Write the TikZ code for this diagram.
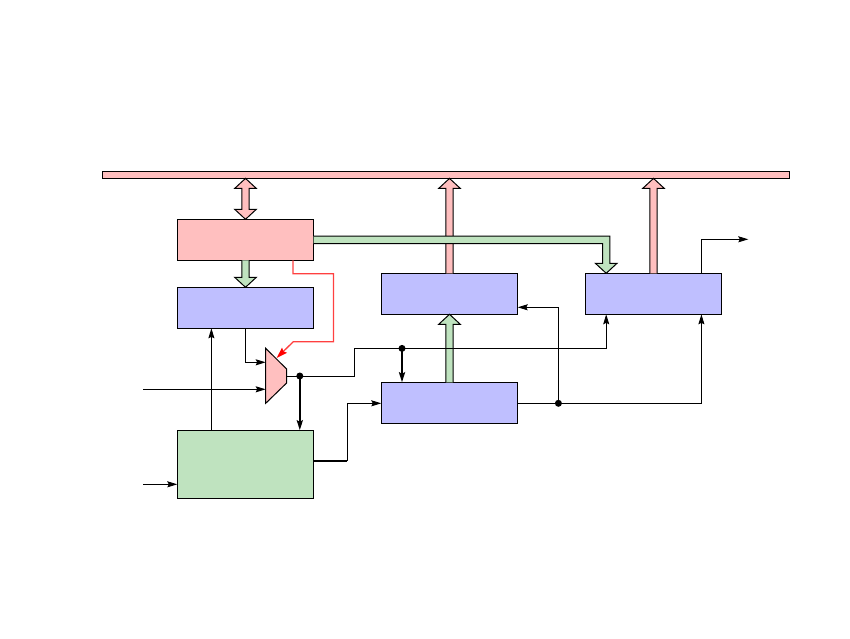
\documentclass[tikz,border=0pt]{standalone}
\usetikzlibrary{arrows.meta,calc}
\definecolor{pinkf}{RGB}{255,191,191}
\definecolor{bluef}{RGB}{191,191,255}
\definecolor{greenf}{RGB}{191,227,191}
\tikzset{
  x=1pt,y=-1pt,
  blockbox/.style={draw=black,line width=1pt,inner sep=0pt,outer sep=0pt,minimum width=136.4pt,minimum height=41pt,anchor=north west},
  wire/.style={draw=black,line width=1pt,-{Stealth[length=10pt,width=6pt,inset=1.5pt]}},
  plain/.style={draw=black,line width=1pt},
  heavy/.style={draw=black,line width=2.1pt,-{Stealth[length=10pt,width=6pt,inset=1.5pt]}},
  heavyplain/.style={draw=black,line width=2.1pt},
  redwire/.style={draw=red!75,line width=1.3pt,-{Stealth[length=11pt,width=7pt,inset=1.5pt,red]}},
  dotnode/.style={circle,fill=black,inner sep=0pt,minimum size=7pt},
  fat/.style={draw=black,line width=1pt,line join=miter,fill=#1},
}
% upward single block arrow: #1 fill, #2 base, #3 tip
\newcommand{\blockup}[3]{%
  \path[fat=#1] let \p1=#2,\p2=#3 in
    (\x1-3.6pt,\y1) -- (\x1-3.6pt,\y2-10pt) -- (\x1-10.8pt,\y2-10pt) -- (\x2,\y2)
    -- (\x1+10.8pt,\y2-10pt) -- (\x1+3.6pt,\y2-10pt) -- (\x1+3.6pt,\y1);}
\newcommand{\blockdown}[3]{%
  \path[fat=#1] let \p1=#2,\p2=#3 in
    (\x1-3.6pt,\y1) -- (\x1-3.6pt,\y2+10pt) -- (\x1-10.8pt,\y2+10pt) -- (\x2,\y2)
    -- (\x1+10.8pt,\y2+10pt) -- (\x1+3.6pt,\y2+10pt) -- (\x1+3.6pt,\y1);}
\begin{document}
\begin{tikzpicture}
\useasboundingbox (0,0) rectangle (850,638);
% boxes
\node[blockbox,fill=pinkf,minimum width=687.2pt,minimum height=7pt] (bus) at (102.4,171.4) {};
\node[blockbox,fill=pinkf] (ctl) at (177.3,219.3) {};
\node[blockbox,fill=bluef] (regb) at (177.3,287.3) {};
\node[blockbox,fill=greenf,minimum height=68pt] (gen) at (177.3,430.3) {};
\node[blockbox,fill=bluef] (regd) at (381.3,273.3) {};
\node[blockbox,fill=bluef] (rege) at (381.3,382.3) {};
\node[blockbox,fill=bluef] (regf) at (585.3,273.3) {};
% free ends and routing points
\coordinate (in1) at (143,389.3);
\coordinate (in2) at (143,484.3);
\coordinate (out) at (748.3,239.3);
\coordinate (muxA) at (265.7,362.3);
\coordinate (muxB) at (265.7,389.3);
\coordinate (genup) at (211.4,430.3);
\coordinate (regfA) at (606.2,273.3);
\coordinate (regfAb) at (606.2,314.3);
\coordinate (regfB) at (701.4,314.3);
\coordinate (regfC) at (701.4,273.3);
\coordinate (regdr) at (517.7,307.3);
\coordinate (busF) at (regf.north |- bus.south);
\coordinate (busD) at (regd.north |- bus.south);
\coordinate (busA) at (ctl.north |- bus.south);
% mux
\coordinate (m1) at (265.7,348.3);
\coordinate (m2) at (286.6,369);
\coordinate (m3) at (286.6,383);
\coordinate (m4) at (265.7,403.3);
\coordinate (mo) at (286.6,376);
\path[fat=pinkf] (m1) -- (m2) -- (m3) -- (m4) -- cycle;
% junctions
\node[dotnode] (j1) at (299.8,376) {};
\node[dotnode] (j2) at (402,348.4) {};
\node[dotnode] (j3) at (558.4,403.3) {};
% block arrows
\path[fat=pinkf] let \p1=(busA),\p2=(ctl.north) in
  (\x1,\y1) -- (\x1-10.8pt,\y1-10pt) -- (\x1-3.6pt,\y1-10pt) -- (\x1-3.6pt,\y2+10pt) -- (\x1-10.8pt,\y2+10pt) -- (\x2,\y2)
  -- (\x1+10.8pt,\y2+10pt) -- (\x1+3.6pt,\y2+10pt) -- (\x1+3.6pt,\y1-10pt) -- (\x1+10.8pt,\y1-10pt) -- cycle;
\blockup{pinkf}{(regd.north)}{(busD)}
\blockup{pinkf}{(regf.north)}{(busF)}
\blockdown{greenf}{(ctl.south)}{(regb.north)}
\blockup{greenf}{(rege.north)}{(regd.south)}
\path[fat=greenf] let \p1=(ctl.east),\p2=(regfA) in
  (\x1,\y1+3.7pt) -- (\x2+3.6pt,\y1+3.7pt) -- (\x2+3.6pt,\y2+10pt) -- (\x2+10.8pt,\y2+10pt) -- (\x2,\y2)
  -- (\x2-10.8pt,\y2+10pt) -- (\x2-3.6pt,\y2+10pt) -- (\x2-3.6pt,\y1-3.7pt) -- (\x1,\y1-3.7pt);
% thin wires
\draw[wire] (regb.south) |- (muxA);
\draw[wire] (in1) -- (muxB);
\draw[wire] (genup) -- (genup |- regb.south);
\draw[wire] (in2) -- (in2 -| gen.west);
\draw[plain] (mo) -- (j1.center) -- (354.4,376) -- (354.4,348.4) -- (j2.center);
\draw[wire] (j2.center) -| (regfAb);
\draw[heavy] (j1.center) -- (j1.center |- gen.north);
\draw[heavy] (j2.center) -- (j2.center |- rege.north);
\draw[heavyplain] (313.7,461) -- (347.4,461);
\draw[wire] (347.4,461) |- (rege.west |- j3.center);
\draw[plain] (rege.east |- j3.center) -- (j3.center);
\draw[wire] (j3.center) -| (regfB);
\draw[wire] (j3.center) |- (regdr);
\draw[wire] (regfC) |- (out);
\draw[redwire] (293,260.3) -- (293,273.7) -- (333.4,273.7) -- (333.4,341.7) -- (293.3,341.7) -- (276.6,358);
\end{tikzpicture}
\end{document}
